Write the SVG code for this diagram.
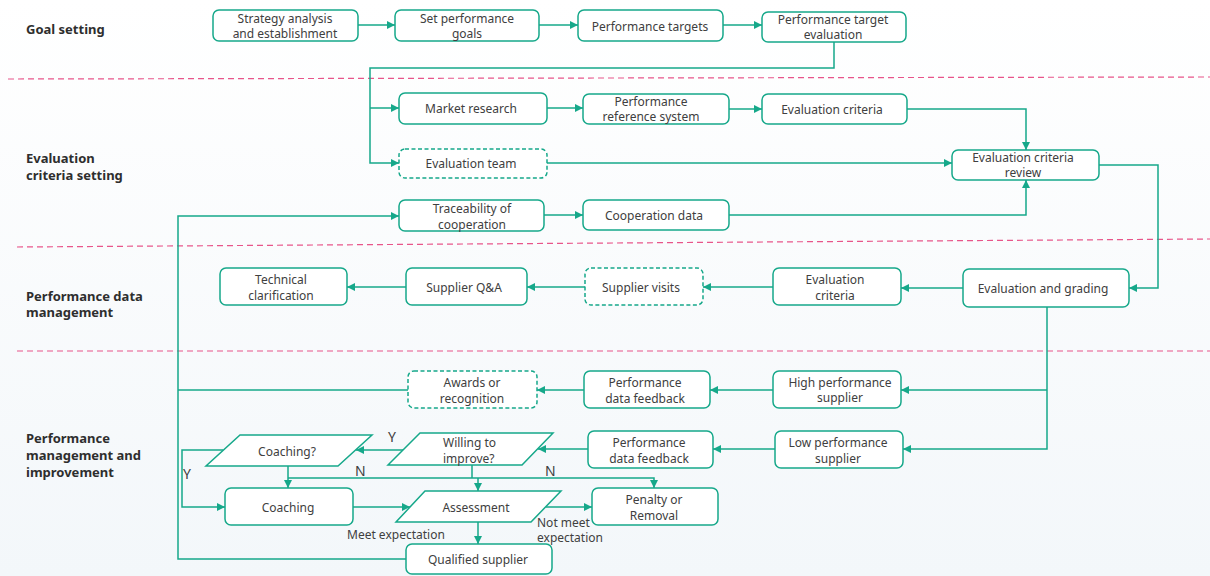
<svg xmlns="http://www.w3.org/2000/svg" width="1210" height="576" viewBox="0 0 1210 576">
<defs>
<linearGradient id="bg" x1="0" y1="0" x2="0" y2="1"><stop offset="0" stop-color="#ffffff"/><stop offset="1" stop-color="#f3f7fa"/></linearGradient>
<marker id="ah" viewBox="0 0 8 8" refX="8" refY="4" markerWidth="8" markerHeight="8" markerUnits="userSpaceOnUse" orient="auto"><path d="M0,0 L8,4 L0,8 z" fill="#16a88a"/></marker>
<style>
.n{fill:#ffffff;stroke:#16a88a;stroke-width:1.5}
.d{stroke-dasharray:4 2.5}
.t{font-family:"Noto Sans","Open Sans",sans-serif;font-size:12px;fill:#404040;text-anchor:middle;dominant-baseline:central}
.s{font-family:"Noto Sans","Open Sans",sans-serif;font-size:13px;font-weight:bold;fill:#2e2e2e;dominant-baseline:central}
.l{font-family:"Noto Sans","Open Sans",sans-serif;font-size:12px;fill:#404040;dominant-baseline:central}
.yn{font-family:"Noto Sans","Open Sans",sans-serif;font-size:14px;fill:#404040;dominant-baseline:central}
.c{fill:none;stroke:#16a88a;stroke-width:1.5}
.a{marker-end:url(#ah)}
.sep{stroke:#e8558a;stroke-width:1.2;stroke-dasharray:6 4;fill:none}
</style>
</defs>
<rect width="1210" height="576" fill="url(#bg)"/>
<g id="lanes">
<line class="sep" x1="8" y1="79" x2="1210" y2="77"/>
<line class="sep" x1="17" y1="247" x2="1210" y2="239"/>
<line class="sep" x1="17" y1="351" x2="1210" y2="351"/>
<text class="s" x="26" y="29">Goal setting</text>
<text class="s" x="26" y="158">Evaluation</text>
<text class="s" x="26" y="175">criteria setting</text>
<text class="s" x="26" y="296">Performance data</text>
<text class="s" x="26" y="312">management</text>
<text class="s" x="26" y="438">Performance</text>
<text class="s" x="26" y="455">management and</text>
<text class="s" x="26" y="472">improvement</text>
</g>
<g id="connectors">
<path class="c a" d="M358,25 H395"/>
<path class="c a" d="M539,25 H578"/>
<path class="c a" d="M723,25 H762"/>
<path class="c a" d="M834,42 V68 H370 V163 H399"/>
<path class="c a" d="M370,108 H399"/>
<path class="c a" d="M547,108 H583"/>
<path class="c a" d="M729,109 H762"/>
<path class="c a" d="M907,109 H1026 V150"/>
<path class="c a" d="M547,163 H952"/>
<path class="c a" d="M729,215 H1026 V180"/>
<path class="c a" d="M544,215 H583"/>
<path class="c a" d="M1099,165 H1158 V288 H1129"/>
<path class="c a" d="M963,288 H901"/>
<path class="c a" d="M773,287 H703"/>
<path class="c a" d="M585,287 H527"/>
<path class="c a" d="M406,287 H347"/>
<path class="c a" d="M1047,307 V449 H903"/>
<path class="c a" d="M1047,390 H901"/>
<path class="c a" d="M773,390 H710"/>
<path class="c a" d="M584,390 H537"/>
<path class="c" d="M408,390 H178"/>
<path class="c a" d="M406,559 H178 V216 H399"/>
<path class="c a" d="M775,449 H713"/>
<path class="c a" d="M588,449 H538"/>
<path class="c a" d="M404,450 H356"/>
<path class="c a" d="M223,450 H182 V507 H225"/>
<path class="c a" d="M288,466 V488"/>
<path class="c a" d="M288,478 H654 V488"/>
<path class="c" d="M472,465 V478"/>
<path class="c a" d="M478,478 V491"/>
<path class="c a" d="M353,507 H410"/>
<path class="c a" d="M546,507 H592"/>
<path class="c a" d="M478,522 V544"/>
<text class="yn" x="388" y="436">Y</text>
<text class="yn" x="183" y="473">Y</text>
<text class="yn" x="355" y="470">N</text>
<text class="yn" x="545" y="470">N</text>
<text class="l" x="347" y="534">Meet expectation</text>
<text class="l" x="537" y="522">Not meet</text>
<text class="l" x="537" y="537">expectation</text>
</g>
<g id="n1"><rect class="n" x="213" y="10" width="145" height="31" rx="6"/><text class="t" x="285" y="18">Strategy analysis</text><text class="t" x="285" y="33">and establishment</text></g>
<g id="n2"><rect class="n" x="395" y="10" width="144" height="31" rx="6"/><text class="t" x="467" y="18">Set performance</text><text class="t" x="467" y="33">goals</text></g>
<g id="n3"><rect class="n" x="578" y="10" width="145" height="31" rx="6"/><text class="t" x="650" y="26">Performance targets</text></g>
<g id="n4"><rect class="n" x="762" y="12" width="144" height="30" rx="6"/><text class="t" x="833" y="19">Performance target</text><text class="t" x="833" y="34">evaluation</text></g>
<g id="n5"><rect class="n" x="399" y="93" width="148" height="31" rx="6"/><text class="t" x="471" y="108">Market research</text></g>
<g id="n6"><rect class="n" x="583" y="94" width="146" height="30" rx="6"/><text class="t" x="651" y="101">Performance</text><text class="t" x="651" y="116">reference system</text></g>
<g id="n7"><rect class="n" x="762" y="94" width="145" height="30" rx="6"/><text class="t" x="832" y="109">Evaluation criteria</text></g>
<g id="n8"><rect class="n d" x="399" y="149" width="148" height="29" rx="6"/><text class="t" x="471" y="163">Evaluation team</text></g>
<g id="n9"><rect class="n" x="952" y="150" width="147" height="30" rx="6"/><text class="t" x="1023" y="157.5">Evaluation criteria</text><text class="t" x="1023" y="172.5">review</text></g>
<g id="n10"><rect class="n" x="399" y="200" width="145" height="31" rx="6"/><text class="t" x="472" y="208">Traceability of</text><text class="t" x="472" y="224">cooperation</text></g>
<g id="n11"><rect class="n" x="583" y="200" width="146" height="30" rx="6"/><text class="t" x="654" y="215">Cooperation data</text></g>
<g id="n12"><rect class="n" x="963" y="269" width="166" height="38" rx="6"/><text class="t" x="1043" y="288">Evaluation and grading</text></g>
<g id="n13"><rect class="n" x="773" y="268" width="128" height="37" rx="6"/><text class="t" x="835" y="279">Evaluation</text><text class="t" x="835" y="295">criteria</text></g>
<g id="n14"><rect class="n d" x="585" y="268" width="118" height="37" rx="6"/><text class="t" x="641" y="287">Supplier visits</text></g>
<g id="n15"><rect class="n" x="406" y="268" width="121" height="37" rx="6"/><text class="t" x="464" y="287">Supplier Q&amp;A</text></g>
<g id="n16"><rect class="n" x="220" y="268" width="127" height="37" rx="6"/><text class="t" x="281" y="279">Technical</text><text class="t" x="281" y="295">clarification</text></g>
<g id="n17"><rect class="n" x="773" y="371" width="128" height="37" rx="6"/><text class="t" x="840" y="382">High performance</text><text class="t" x="840" y="397">supplier</text></g>
<g id="n18"><rect class="n" x="584" y="371" width="126" height="37" rx="6"/><text class="t" x="645" y="382">Performance</text><text class="t" x="645" y="398">data feedback</text></g>
<g id="n19"><rect class="n d" x="408" y="371" width="129" height="37" rx="6"/><text class="t" x="472" y="382">Awards or</text><text class="t" x="472" y="398">recognition</text></g>
<g id="n20"><rect class="n" x="775" y="431" width="128" height="37" rx="6"/><text class="t" x="838" y="442">Low performance</text><text class="t" x="838" y="458">supplier</text></g>
<g id="n21"><rect class="n" x="588" y="431" width="125" height="37" rx="6"/><text class="t" x="649" y="442">Performance</text><text class="t" x="649" y="458">data feedback</text></g>
<g id="n22"><polygon class="n" points="420,433 553,433 522,465 388,465"/><text class="l" x="443" y="442">Willing to</text><text class="l" x="443" y="458">improve?</text></g>
<g id="n23"><polygon class="n" points="240,435 372,435 338,466 206,466"/><text class="t" x="287" y="451">Coaching?</text></g>
<g id="n24"><rect class="n" x="225" y="488" width="128" height="37" rx="6"/><text class="t" x="288" y="507">Coaching</text></g>
<g id="n25"><polygon class="n" points="425,491 561,491 531,522 396,522"/><text class="t" x="476" y="507">Assessment</text></g>
<g id="n26"><rect class="n" x="592" y="488" width="126" height="37" rx="6"/><text class="t" x="654" y="499">Penalty or</text><text class="t" x="654" y="515">Removal</text></g>
<g id="n27"><rect class="n" x="406" y="544" width="146" height="30" rx="6"/><text class="t" x="478" y="559">Qualified supplier</text></g>
</svg>
